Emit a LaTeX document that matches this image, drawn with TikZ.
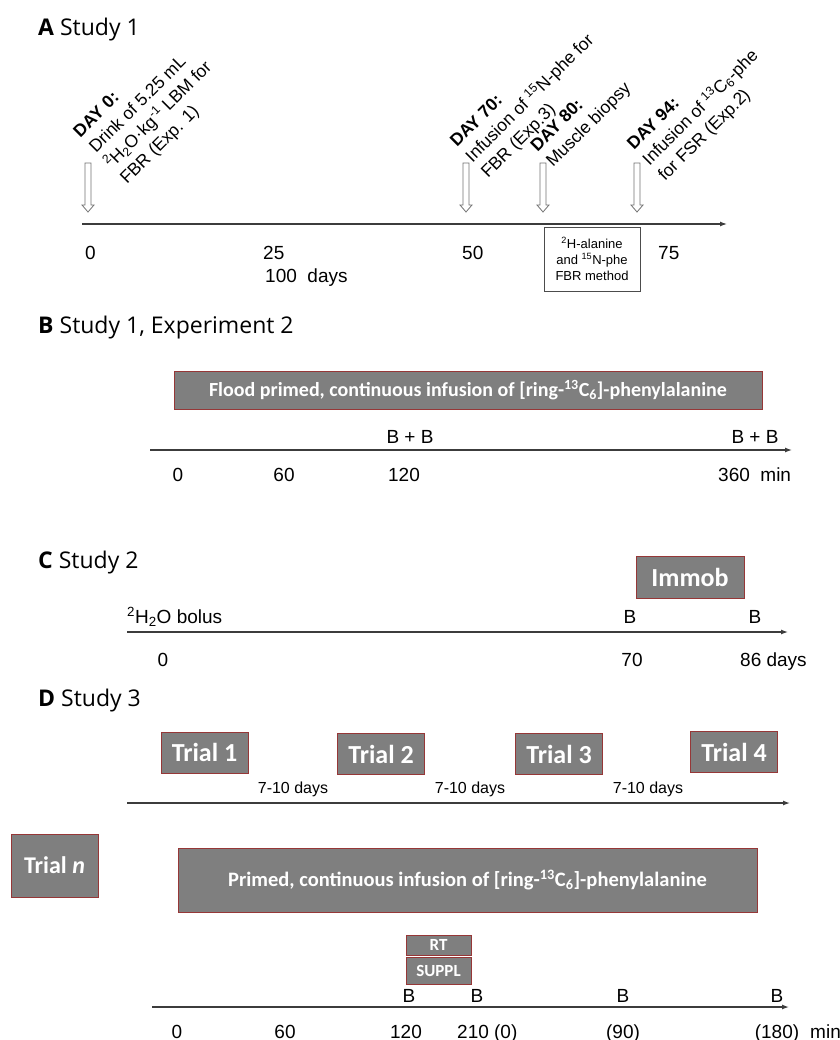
\documentclass[tikz,border=0pt]{standalone}
\usepackage{fontspec}
\setmainfont{Liberation Sans}
\newfontfamily\headfont{Open Sans}
\newfontfamily\boxfont{Carlito}
\usetikzlibrary{arrows.meta}
\definecolor{boxgray}{RGB}{127,127,127}
\definecolor{boxedge}{RGB}{150,55,55}
\definecolor{axisgray}{RGB}{60,60,60}
\def\dayarrow(#1){\draw[hollowarrow] (#1-3,163) -- (#1-3,205) -- (#1-6,205) -- (#1,212) -- (#1+6,205) -- (#1+3,205) -- (#1+3,163) -- cycle;}

\begin{document}
\begin{tikzpicture}[x=1pt,y=-1pt,
	panel/.style={anchor=base west, inner sep=0, font=\headfont\fontsize{23}{27}\selectfont},
	tick/.style={anchor=base west, inner sep=0, font=\fontsize{19}{22}\selectfont},
	tickc/.style={tick, anchor=base},
	event/.style={rotate=45, anchor=base west, align=left, inner sep=0, font=\fontsize{17.5}{22}\selectfont},
	greybox/.style={draw=boxedge, fill=boxgray, line width=0.9pt, text=white, inner sep=0},
	axis/.style={draw=axisgray, line width=1.3pt, -{Latex[length=7pt,width=5pt]}},
	hollowarrow/.style={draw=black!55, line width=0.8pt, fill=white}]
	%%%%% START %%%%%
	\fill[white] (0,0) rectangle (839,1040);
	\useasboundingbox (0,0) rectangle (839,1040);
	
	%%%%% A: Study 1 %%%%%
	\node[panel] (titleA) at (38,36) {\textbf{A} Study 1};
	
	\dayarrow(88)
	\dayarrow(466)
	\dayarrow(543)
	\dayarrow(637)
	
	% anchored at the start of the last line
	\node[event] (day0) at (127,185) {\textbf{DAY 0:}\\Drink of 5.25 mL\\\textsuperscript{2}H\textsubscript{2}O·kg\textsuperscript{-1} LBM for\\FBR (Exp. 1)};
	\node[event] (day70) at (488,179) {\textbf{DAY 70:}\\Infusion of \textsuperscript{15}N-phe for\\FBR (Exp.3)};
	\node[event] (day80) at (553,168) {\textbf{DAY 80:}\\Muscle biopsy};
	\node[event] (day94) at (665,182) {\textbf{DAY 94:}\\Infusion of \textsuperscript{13}C\textsubscript{6}-phe\\for FSR (Exp.2)};
	
	\coordinate (axAs) at (82,224);
	\coordinate (axAe) at (727,224);
	\draw[axis] (axAs) -- (axAe);
	
	\node[tick] (a0) at (85,260) {0};
	\node[tick] (a25) at (263,260) {25};
	\node[tick] (a100) at (265,283) {100\ \ days};
	\node[tick] (a50) at (462,260) {50};
	\node[tick] (a75) at (658,260) {75};
	\node[draw=black!70, line width=0.8pt, fill=white, align=center, inner sep=0,
		minimum width=96, minimum height=64, font=\fontsize{13}{16}\selectfont] (method) at (592,259)
		{\textsuperscript{2}H-alanine\\and \textsuperscript{15}N-phe\\FBR method};
	
	%%%%% B: Study 1, Experiment 2 %%%%%
	\node[panel] (titleB) at (38,333) {\textbf{B} Study 1, Experiment 2};
	
	\node[greybox, minimum width=588, minimum height=38, font=\boxfont\bfseries\fontsize{20}{24}\selectfont] (flood) at (468,390)
		{Flood primed, continuous infusion of [ring-\textsuperscript{13}C\textsubscript{6}]-phenylalanine};
	
	\node[tickc] (bb1) at (410,443) {B + B};
	\node[tickc] (bb2) at (755,443) {B + B};
	
	\coordinate (axBs) at (150,450);
	\coordinate (axBe) at (792,450);
	\draw[axis] (axBs) -- (axBe);
	
	\node[tickc] (b0) at (178,481) {0};
	\node[tickc] (b60) at (284,481) {60};
	\node[tickc] (b120) at (404,481) {120};
	\node[tick] (b360) at (718,481) {360\ \ min};
	
	%%%%% C: Study 2 %%%%%
	\node[panel] (titleC) at (38,568) {\textbf{C} Study 2};
	
	\node[greybox, minimum width=108, minimum height=42, font=\boxfont\bfseries\fontsize{26}{30}\selectfont] (immob) at (690,577) {Immob};
	
	\node[tick] (bolus) at (127,623) {\textsuperscript{2}H\textsubscript{2}O bolus};
	\node[tickc] (cb1) at (630,623) {B};
	\node[tickc] (cb2) at (755,623) {B};
	
	\coordinate (axCs) at (127,632);
	\coordinate (axCe) at (788,632);
	\draw[axis] (axCs) -- (axCe);
	
	\node[tickc] (c0) at (163,666) {0};
	\node[tickc] (c70) at (632,666) {70};
	\node[tick] (c86) at (740,666) {86 days};
	
	%%%%% D: Study 3 %%%%%
	\node[panel] (titleD) at (38,706) {\textbf{D} Study 3};
	
	\tikzset{trial/.style={greybox, minimum width=87, minimum height=41, font=\boxfont\bfseries\fontsize{26}{30}\selectfont}}
	\node[trial] (trial1) at (204.5,752.5) {Trial 1};
	\node[trial] (trial2) at (381,754) {Trial 2};
	\node[trial] (trial3) at (559,754) {Trial 3};
	\node[trial] (trial4) at (734,752) {Trial 4};
	
	\node[tickc, font=\fontsize{16}{19}\selectfont] (gap1) at (293,793) {7-10 days};
	\node[tickc, font=\fontsize{16}{19}\selectfont] (gap2) at (470,793) {7-10 days};
	\node[tickc, font=\fontsize{16}{19}\selectfont] (gap3) at (648,793) {7-10 days};
	
	\coordinate (axDs) at (127,803);
	\coordinate (axDe) at (790,803);
	\draw[axis] (axDs) -- (axDe);
	
	\node[greybox, minimum width=87, minimum height=63, font=\boxfont\bfseries\fontsize{24}{28}\selectfont] (trialn) at (54.5,865.5) {Trial \textit{n}};
	\node[greybox, minimum width=579, minimum height=64, font=\boxfont\bfseries\fontsize{20.5}{24}\selectfont] (primed) at (467.5,880)
		{Primed, continuous infusion of [ring-\textsuperscript{13}C\textsubscript{6}]-phenylalanine};
	
	\node[greybox, minimum width=65, minimum height=20, font=\boxfont\bfseries\fontsize{17}{20}\selectfont] (rt) at (438.5,945) {RT};
	\node[greybox, minimum width=65, minimum height=27, font=\boxfont\bfseries\fontsize{17}{20}\selectfont] (suppl) at (438.5,970.5) {SUPPL};
	
	\node[tickc] (db1) at (409,1002) {B};
	\node[tickc] (db2) at (477,1002) {B};
	\node[tickc] (db3) at (623,1002) {B};
	\node[tickc] (db4) at (777,1002) {B};
	
	\coordinate (axEs) at (152,1007);
	\coordinate (axEe) at (789,1007);
	\draw[axis] (axEs) -- (axEe);
	
	\node[tickc] (d0) at (177,1038) {0};
	\node[tickc] (d60) at (285,1038) {60};
	\node[tickc] (d120) at (406,1038) {120};
	\node[tick] (d210) at (457,1038) {210 (0)};
	\node[tickc] (d90) at (623,1038) {(90)};
	\node[tickc] (d180) at (777,1038) {(180)};
	\node[tick] (dmin) at (810,1038) {min};
	
	%%%%% END %%%%%
\end{tikzpicture}
\end{document}
